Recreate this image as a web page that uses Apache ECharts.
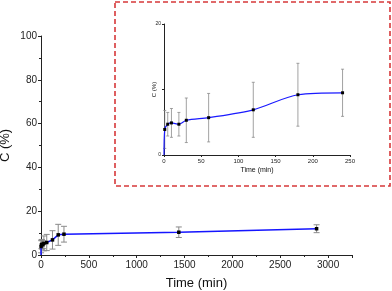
<!DOCTYPE html>
<html>
<head>
<meta charset="utf-8">
<script src="https://cdn.jsdelivr.net/npm/echarts@6/dist/echarts.min.js"></script>
<style>
html,body{margin:0;padding:0;background:#fff;}
#c{width:392px;height:291px;}
</style>
</head>
<body>
<div id="c"></div>
<script>
// Data
var times  = [0, 1, 5, 10, 20, 30, 60, 120, 180, 240, 1440, 2880];
var values = [0, 3.9, 4.7, 4.9, 4.7, 5.3, 5.7, 6.9, 9.2, 9.5, 10.4, 12.0];
var errors = [0, 2.9, 1.8, 2.2, 1.8, 3.4, 3.7, 4.2, 4.8, 3.6, 2.4, 1.8];
var mainXTicks = [0, 500, 1000, 1500, 2000, 2500, 3000];
var mainYTicks = [0, 20, 40, 60, 80, 100];
var insetXTicks = [0, 50, 100, 150, 200, 250];
var insetYTicks = [0, 20];

var FONT = '"Liberation Sans", Arial, sans-serif';

function lineData(maxT) {
  var out = [];
  for (var i = 0; i < times.length; i++) {
    if (times[i] <= maxT) {
      var item = { value: [times[i], values[i]] };
      if (times[i] === 0) item.symbol = 'none';
      out.push(item);
    }
  }
  return out;
}
function errData(maxT) {
  var out = [];
  for (var i = 0; i < times.length; i++) {
    if (times[i] <= maxT && errors[i] > 0) out.push([times[i], values[i], errors[i]]);
  }
  return out;
}
function errRender(cap, lw) {
  return function (params, api) {
    var x = api.value(0), y = api.value(1), e = api.value(2);
    var t = api.coord([x, y + e]);
    var b = api.coord([x, y - e]);
    var st = { stroke: '#8a8a8a', lineWidth: lw };
    return {
      type: 'group',
      children: [
        { type: 'line', shape: { x1: t[0], y1: t[1], x2: b[0], y2: b[1] }, style: st },
        { type: 'line', shape: { x1: t[0] - cap, y1: t[1], x2: t[0] + cap, y2: t[1] }, style: st },
        { type: 'line', shape: { x1: b[0] - cap, y1: b[1], x2: b[0] + cap, y2: b[1] }, style: st }
      ]
    };
  };
}
function showOnly(list) {
  return function (v) { return list.indexOf(v) >= 0 ? String(v) : ''; };
}

var chart = echarts.init(document.getElementById('c'), null, { renderer: 'canvas' });
var axisLine = { show: true, onZero: false, lineStyle: { color: '#222', width: 1 } };

chart.setOption({
  animation: false,
  backgroundColor: '#fff',
  grid: [
    { left: 41, top: 36, right: 40, bottom: 36, containLabel: false, outerBoundsMode: 'none' },
    { left: 164, top: 24, right: 42, bottom: 136, containLabel: false, outerBoundsMode: 'none' }
  ],
  xAxis: [
    {
      gridIndex: 0, type: 'value', min: 0, max: 3250, interval: 500,
      name: 'Time (min)', nameLocation: 'middle', nameGap: 22, nameMoveOverlap: false,
      nameTextStyle: { fontFamily: FONT, fontSize: 13, color: '#111' },
      axisLine: axisLine,
      axisTick: { show: true, inside: false, length: 3, lineStyle: { color: '#222' } },
      minorTick: { show: true, splitNumber: 2, length: 2, lineStyle: { color: '#222' } },
      splitLine: { show: false },
      axisLabel: { fontFamily: FONT, fontSize: 10, color: '#222', margin: 5, formatter: showOnly(mainXTicks), showMaxLabel: false }
    },
    {
      gridIndex: 1, type: 'value', min: 0, max: 250, interval: 50,
      name: 'Time (min)', nameLocation: 'middle', nameGap: 12, nameMoveOverlap: false,
      nameTextStyle: { fontFamily: FONT, fontSize: 7, color: '#111' },
      axisLine: axisLine,
      axisTick: { show: true, length: 2, lineStyle: { color: '#222' } },
      minorTick: { show: true, splitNumber: 2, length: 1, lineStyle: { color: '#222' } },
      splitLine: { show: false },
      axisLabel: { fontFamily: FONT, fontSize: 6, color: '#222', margin: 3, formatter: showOnly(insetXTicks) }
    }
  ],
  yAxis: [
    {
      gridIndex: 0, type: 'value', min: 0, max: 100, interval: 20,
      name: 'C (%)', nameLocation: 'middle', nameGap: 29, nameRotate: 90, nameMoveOverlap: false,
      nameTextStyle: { fontFamily: FONT, fontSize: 13, color: '#111' },
      axisLine: axisLine,
      axisTick: { show: true, length: 3, lineStyle: { color: '#222' } },
      minorTick: { show: true, splitNumber: 2, length: 2, lineStyle: { color: '#222' } },
      splitLine: { show: false },
      axisLabel: { fontFamily: FONT, fontSize: 10, color: '#222', margin: 4, formatter: showOnly(mainYTicks) }
    },
    {
      gridIndex: 1, type: 'value', min: 0, max: 20, interval: 10,
      name: 'C (%)', nameLocation: 'middle', nameGap: 7, nameRotate: 90, nameMoveOverlap: false,
      nameTextStyle: { fontFamily: FONT, fontSize: 6, color: '#111' },
      axisLine: axisLine,
      axisTick: { show: true, length: 2, lineStyle: { color: '#222' } },
      splitLine: { show: false },
      axisLabel: { fontFamily: FONT, fontSize: 5, color: '#222', margin: 3, formatter: showOnly(insetYTicks) }
    }
  ],
  graphic: [
    {
      type: 'rect', shape: { x: 115, y: 2, width: 275, height: 184 },
      style: { fill: 'none', stroke: '#d6383a', lineWidth: 1.6, lineDash: [5, 3] },
      z: 10
    }
  ],
  series: [
    {
      type: 'custom', xAxisIndex: 0, yAxisIndex: 0,
      renderItem: errRender(3, 1), data: errData(3250), z: 1,
      encode: { x: 0, y: 1 }
    },
    {
      type: 'line', xAxisIndex: 0, yAxisIndex: 0, data: lineData(3250),
      symbol: 'rect', symbolSize: 3.5, itemStyle: { color: '#000' },
      lineStyle: { color: '#1515ff', width: 1.5 }, z: 3
    },
    {
      type: 'custom', xAxisIndex: 1, yAxisIndex: 1,
      renderItem: errRender(1.5, 0.8), data: errData(250), z: 1,
      encode: { x: 0, y: 1 }
    },
    {
      type: 'line', xAxisIndex: 1, yAxisIndex: 1, data: lineData(250),
      smooth: 0.3,
      symbol: 'rect', symbolSize: 3, itemStyle: { color: '#000' },
      lineStyle: { color: '#1a1aff', width: 1.2 }, z: 3
    }
  ]
});
</script>
</body>
</html>
